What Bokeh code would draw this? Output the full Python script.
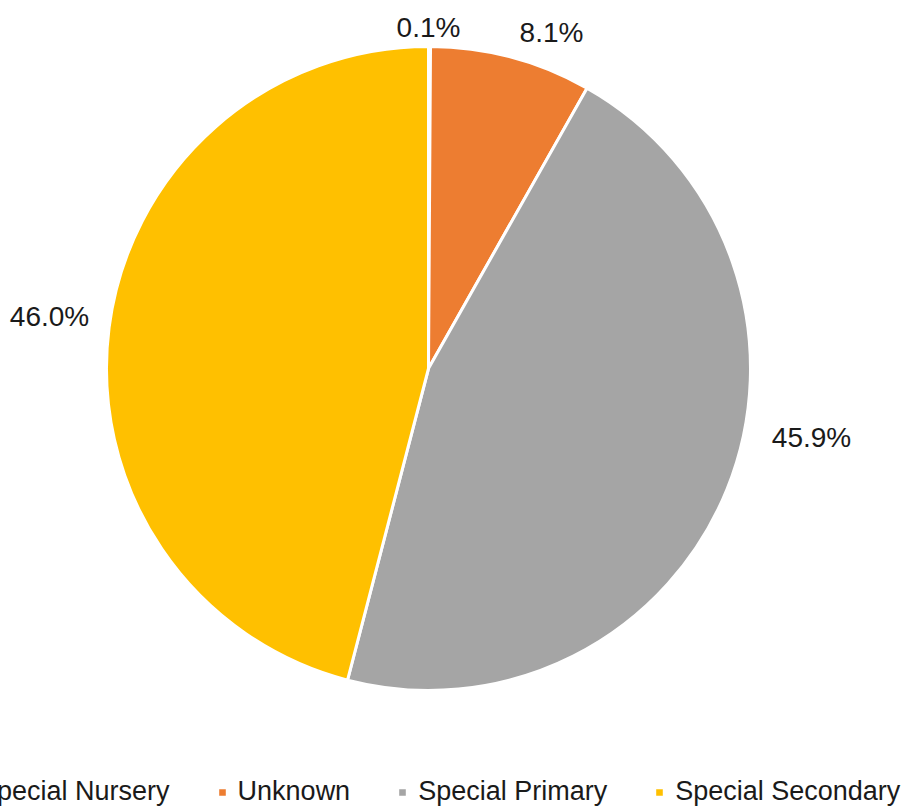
import math
from bokeh.plotting import figure
from bokeh.models import ColumnDataSource, Legend, LegendItem, Range1d
from bokeh.core.properties import value
from bokeh.embed import file_html
from bokeh.resources import INLINE

# ---- data ----
categories = ["Special Nursery", "Unknown", "Special Primary", "Special Secondary"]
shares = [0.1, 8.1, 45.9, 46.0]
colors = ["#4472C4", "#ED7D31", "#A5A5A5", "#FFC000"]
label_texts = ["0.1%", "8.1%", "45.9%", "46.0%"]

# ---- layout constants (pixels) ----
W, H = 909, 807
CX, CY, R = 428, 807 - 368, 322
# data-label anchors (x centre, y baseline) in pixel space, y measured upward
label_x = [428, 551, 811, 49]
label_y = [780, 775, 370, 491]
FONT = "Liberation Sans"

total = sum(shares)
starts, ends = [], []
acc = 0.0
for s in shares:
    starts.append(math.pi / 2 - 2 * math.pi * acc / total)
    acc += s
    ends.append(math.pi / 2 - 2 * math.pi * acc / total)

src = ColumnDataSource(dict(cat=categories, share=shares, color=colors,
                            start=starts, end=ends))

p = figure(width=W, height=H, x_range=Range1d(0, W), y_range=Range1d(0, H),
           output_backend="svg", toolbar_location=None, min_border=0)
p.styles = {"position": "absolute", "left": "0px", "top": "0px"}
p.axis.visible = False
p.xgrid.visible = False
p.ygrid.visible = False
p.outline_line_color = None
p.background_fill_color = "white"

wr = p.wedge(x=CX, y=CY, radius=R, start_angle="start", end_angle="end",
             direction="clock", fill_color="color", line_color="white",
             line_width=3, source=src)

p.text(x=label_x, y=label_y, text=label_texts, text_align="center",
       text_baseline="alphabetic", text_font=value(FONT),
       text_font_size="28px", text_color="#1a1a1a")

items = [LegendItem(label=c, renderers=[wr], index=i) for i, c in enumerate(categories)]
legend = Legend(items=items, orientation="horizontal", location=(-43, 0),
                glyph_width=12, glyph_height=12, label_standoff=10, spacing=46,
                padding=0, margin=0, border_line_color=None,
                background_fill_alpha=0, label_text_font=FONT,
                label_text_font_size="27px", label_text_color="#1a1a1a")
p.add_layout(legend)

open("out.html", "w").write(file_html(p, INLINE))
